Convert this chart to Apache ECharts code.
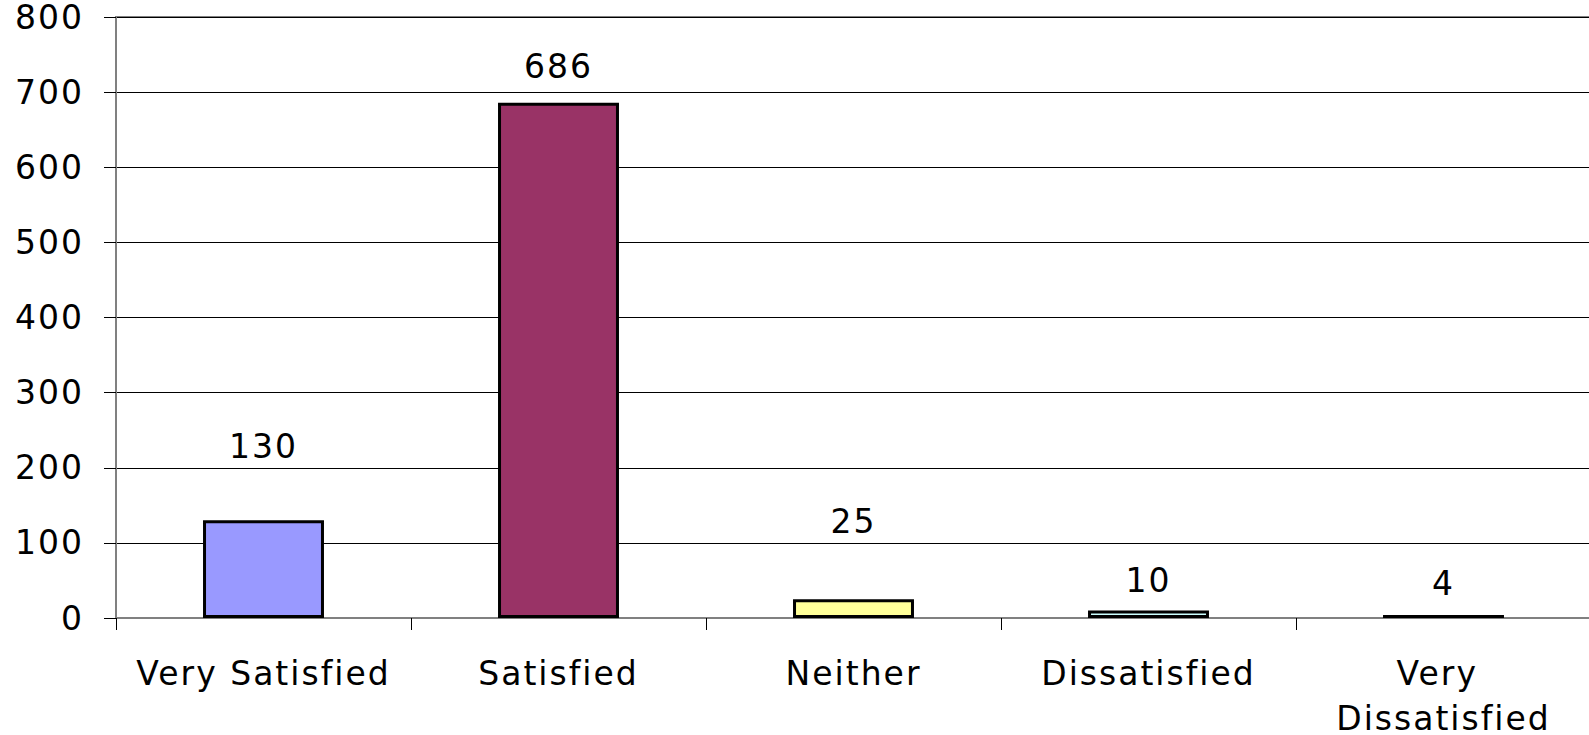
<!DOCTYPE html>
<html>
<head>
<meta charset="utf-8">
<script src="https://cdn.jsdelivr.net/npm/echarts@6/dist/echarts.min.js"></script>
<style>
  html, body { margin: 0; padding: 0; background: #fff; }
  #main { width: 1589px; height: 735px; letter-spacing: 2px; }
</style>
</head>
<body>
<div id="main"></div>
<script>
  // data
  var categories = ['Very Satisfied', 'Satisfied', 'Neither', 'Dissatisfied', 'Very Dissatisfied'];
  var counts = [130, 686, 25, 10, 4];
  var yTicks = [0, 100, 200, 300, 400, 500, 600, 700, 800];

  var barColors = ['#9999FF', '#993366', '#FFFF99', '#CCFFFF', '#000000'];
  // gap between bar top and its value label (Excel placed them unevenly)
  var labelGap = [57, 20, 61, 13, 15];

  var myChart = echarts.init(document.getElementById('main'), null, { renderer: 'svg' });

  var font = 'DejaVu Sans';

  var option = {
    animation: false,
    grid: {
      left: 116,
      right: -2,
      top: 17,
      bottom: 117,
      outerBoundsMode: 'none',
      containLabel: false,
      show: true,
      borderColor: '#808080',
      borderWidth: 2
    },
    xAxis: {
      type: 'category',
      data: categories,
      axisLine: { lineStyle: { color: '#808080', width: 2 } },
      axisTick: { show: true, length: 12, lineStyle: { color: '#000', width: 1 } },
      axisLabel: {
        interval: 0,
        margin: 33,
        color: '#000',
        fontFamily: font,
        fontSize: 33,
        lineHeight: 45,
        width: 260,
        overflow: 'break'
      }
    },
    yAxis: {
      type: 'value',
      min: yTicks[0],
      max: yTicks[yTicks.length - 1],
      interval: 100,
      axisLine: { show: true, lineStyle: { color: '#808080', width: 2 } },
      axisTick: { show: true, length: 12, lineStyle: { color: '#000', width: 1 } },
      splitLine: { lineStyle: { color: '#000', width: 1 } },
      axisLabel: {
        margin: 32,
        color: '#000',
        fontFamily: font,
        fontSize: 33,
        padding: [7, 0, 0, 0]
      }
    },
    series: [
      {
        type: 'bar',
        barWidth: '41%',
        data: counts.map(function (v, i) {
          return {
            value: v,
            itemStyle: { color: barColors[i] },
            label: { distance: labelGap[i] }
          };
        }),
        itemStyle: { borderColor: '#000', borderWidth: 3 },
        label: {
          show: true,
          position: 'top',
          color: '#000',
          fontFamily: font,
          fontSize: 33
        }
      }
    ]
  };

  myChart.setOption(option);
</script>
</body>
</html>
